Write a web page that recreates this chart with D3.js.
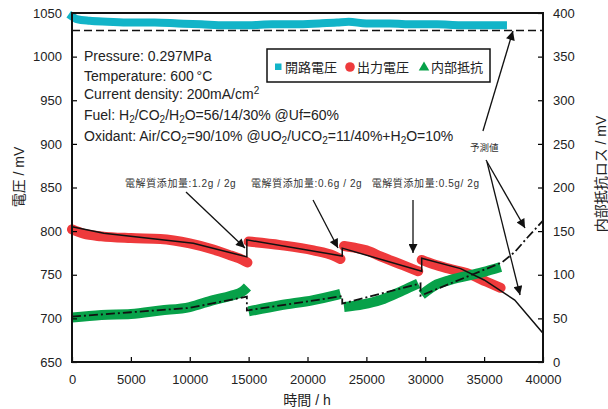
<!DOCTYPE html>
<html>
<head>
<meta charset="utf-8">
<script src="https://cdn.jsdelivr.net/npm/d3@7"></script>
<style>
  body { margin:0; background:#fff; }
  svg { display:block; font-family:"Liberation Sans", Arial, "Noto Sans CJK JP", sans-serif; }
  .tick text { font-size:13px; fill:#222; }
  .tick line { stroke:#000; stroke-width:1.2; }
</style>
</head>
<body>
<div id="chart"></div>
<script>
// axis ticks
const xTicks = [0,5000,10000,15000,20000,25000,30000,35000,40000];
const leftTicks = [650,700,750,800,850,900,950,1000,1050];
const rightTicks = [0,50,100,150,200,250,300,350,400];

// 開路電圧 (h, mV)
const ocv = [[0,1046],[400,1043],[1500,1041],[3000,1040],[5000,1039],[7000,1039],[9000,1038],[11000,1037],[13000,1036],
  [15000,1036],[17000,1037],[19000,1037],[21000,1038],[22500,1039],[23500,1040],[25000,1038],[27000,1038],[29000,1037],
  [31000,1037],[33000,1036],[35000,1036],[36600,1036]];
// 出力電圧 (h, mV), four segments between electrolyte additions
const volt1 = [[0,802],[1000,797],[2500,794],[5000,792],[7500,791],[10000,786],[12000,779],[13500,772],[14500,767],[14900,764]];
const volt2 = [[15000,788],[17700,784],[20500,778],[22200,772],[22800,768]];
const volt3 = [[23100,783],[24000,781],[25000,778],[26200,771],[28100,761],[29400,754]];
const volt4 = [[29700,767],[30700,762],[32000,757],[33500,752],[35200,742],[36400,735]];
// 内部抵抗 (h, mV on right axis)
const ir1 = [[0,51],[2500,54],[5000,55],[7500,59],[10000,63],[12000,71],[13500,76],[14500,81],[14900,86]];
const ir2 = [[15000,58],[17700,65],[20500,71],[22500,77],[22800,78]];
const ir3 = [[23100,63],[24700,66],[26200,71],[28100,82],[29400,90]];
const ir4 = [[29700,77],[31000,89],[32100,94],[34900,103],[36400,109]];
// 予測値 lines
const ocvFit = [[0,1030],[40000,1030]];
const voltFit = [[0,805],[2700,797.5],[10300,786],[14850,770.5],[14850,790],[22950,771.5],[22950,780.5],[29700,754],
  [29700,769],[33000,757],[35000,744],[37600,721],[40000,683]];
const irFit = [[0,52],[5000,57],[10000,62],[14850,75],[14850,59],[22950,75.5],[22950,67],[29600,90],[29600,76],
  [36500,114],[37600,126],[38700,143],[40000,162]];

// annotations in data coords (h, left mV)
const notes = [
  { text:"電解質添加量:1.2g / 2g", at:[4500,850.6], from:[9680,844.8], to:[14690,780.7] },
  { text:"電解質添加量:0.6g / 2g", at:[15200,850.6], from:[20470,835.7], to:[22590,780.7] },
  { text:"電解質添加量:0.5g/ 2g", at:[25450,850.6], from:[28960,835.7], to:[28960,774.9] }
];
const predArrows = [
  { from:[34900,914.8], to:[37450,1029.4] },
  { from:[35160,881.5], to:[38470,803.6] },
  { from:[35245,879.2], to:[38050,726.8] }
];

const width = 608, height = 409;
const margin = { top:13, right:65, bottom:47, left:72 };
const C = { ocv:'#12b4c8', volt:'#ee3a3c', ir:'#07a149' };

const svg = d3.select('#chart').append('svg').attr('width', width).attr('height', height);
const x = d3.scaleLinear().domain([0,40000]).range([margin.left, width - margin.right]);
const yL = d3.scaleLinear().domain([650,1050]).range([height - margin.bottom, margin.top]);
const yR = d3.scaleLinear().domain([0,400]).range([height - margin.bottom, margin.top]);

const defs = svg.append('defs');
defs.append('marker').attr('id','ah').attr('viewBox','0 0 10 10').attr('refX',10).attr('refY',5)
  .attr('markerUnits','userSpaceOnUse').attr('markerWidth',11).attr('markerHeight',9).attr('orient','auto')
  .append('path').attr('d','M0,0L10,5L0,10Z').attr('fill','#111');

// data bands
const lineL = d3.line().x(d=>x(d[0])).y(d=>yL(d[1])).curve(d3.curveMonotoneX);
const lineR = d3.line().x(d=>x(d[0])).y(d=>yR(d[1])).curve(d3.curveMonotoneX);
svg.append('path').datum(ocv).attr('d', lineL).attr('fill','none').attr('stroke',C.ocv).attr('stroke-width',8).attr('stroke-linecap','square');
[volt1,volt2,volt3,volt4].forEach(s=>{
  svg.append('path').datum(s).attr('d', lineL).attr('fill','none').attr('stroke',C.volt).attr('stroke-width',10).attr('stroke-linecap','round');
});
[ir1,ir2,ir3,ir4].forEach(s=>{
  svg.append('path').datum(s).attr('d', lineR).attr('fill','none').attr('stroke',C.ir).attr('stroke-width',10).attr('stroke-linecap','butt');
});

// fit / prediction lines
const straightL = d3.line().x(d=>x(d[0])).y(d=>yL(d[1]));
const straightR = d3.line().x(d=>x(d[0])).y(d=>yR(d[1]));
svg.append('path').datum(ocvFit).attr('d', straightL).attr('fill','none').attr('stroke','#111').attr('stroke-width',1.6).attr('stroke-dasharray','8,4');
svg.append('path').datum(voltFit).attr('d', straightL).attr('fill','none').attr('stroke','#111').attr('stroke-width',1.5);
svg.append('path').datum(irFit).attr('d', straightR).attr('fill','none').attr('stroke','#111').attr('stroke-width',1.8).attr('stroke-dasharray','9,3,2,3');

// axes
const fmt = d3.format('d');
const xa = svg.append('g').attr('transform',`translate(0,${height - margin.bottom})`)
  .call(d3.axisBottom(x).tickValues(xTicks).tickSize(-5).tickPadding(13).tickFormat(fmt));
const la = svg.append('g').attr('transform',`translate(${margin.left},0)`)
  .call(d3.axisLeft(yL).tickValues(leftTicks).tickSize(-5).tickPadding(10).tickFormat(fmt));
const ra = svg.append('g').attr('transform',`translate(${width - margin.right},0)`)
  .call(d3.axisRight(yR).tickValues(rightTicks).tickSize(-5).tickPadding(10).tickFormat(fmt));
[xa,la,ra].forEach(g=>g.select('.domain').remove());
svg.append('rect').attr('x',margin.left).attr('y',margin.top)
  .attr('width', width - margin.left - margin.right).attr('height', height - margin.top - margin.bottom)
  .attr('fill','none').attr('stroke','#111').attr('stroke-width',2);

// axis titles
svg.append('text').attr('transform','translate(24,177) rotate(-90)').attr('text-anchor','middle')
  .style('font-size','14px').style('fill','#222').text('電圧 / mV');
svg.append('text').attr('transform','translate(606,174) rotate(-90)').attr('text-anchor','middle')
  .style('font-size','14px').style('fill','#222').text('内部抵抗ロス / mV');
svg.append('text').attr('x',307).attr('y',405).attr('text-anchor','middle')
  .style('font-size','14px').style('fill','#222').text('時間 / h');

// condition text (sub/superscripts shift the baseline, next tspan shifts it back)
const info = svg.append('g').style('font-size','14px').style('fill','#222');
function richLine(yPos, parts){
  const t = info.append('text').attr('x',84).attr('y',yPos);
  let back = 0;
  parts.forEach(p=>{
    if (typeof p === 'string'){ t.append('tspan').attr('dy', back || null).text(p); back = 0; }
    else if (p.sub){ t.append('tspan').attr('dy', 3 + back).style('font-size','10px').text(p.sub); back = -3; }
    else if (p.sup){ t.append('tspan').attr('dy', -5 + back).style('font-size','10px').text(p.sup); back = 5; }
  });
}
richLine(61, ['Pressure: 0.297MPa']);
richLine(81, ['Temperature: 600\u2009°C']);
richLine(99, ['Current density: 200mA/cm', {sup:'2'}]);
richLine(120, ['Fuel: H', {sub:'2'}, '/CO', {sub:'2'}, '/H', {sub:'2'}, 'O=56/14/30% @Uf=60%']);
richLine(141, ['Oxidant: Air/CO', {sub:'2'}, '=90/10% @UO', {sub:'2'}, '/UCO', {sub:'2'}, '=11/40%+H', {sub:'2'}, 'O=10%']);

// legend
const lg = svg.append('g');
lg.append('rect').attr('x',267).attr('y',49).attr('width',223).attr('height',33).attr('fill','#fff').attr('stroke','#111').attr('stroke-width',1.5);
lg.append('rect').attr('x',275).attr('y',63.5).attr('width',6.5).attr('height',6.5).attr('fill',C.ocv);
lg.append('circle').attr('cx',350).attr('cy',67).attr('r',4.8).attr('fill',C.volt);
lg.append('path').attr('d', d3.symbol(d3.symbolTriangle, 48)()).attr('transform','translate(424,67.5)').attr('fill',C.ir);
[['開路電圧',285],['出力電圧',357],['内部抵抗',431]].forEach(([t,px])=>{
  lg.append('text').attr('x',px).attr('y',71.5).style('font-size','13px').style('fill','#222').text(t);
});

// annotations
const an = svg.append('g');
notes.forEach(n=>{
  an.append('text').attr('x',x(n.at[0])).attr('y',yL(n.at[1])).style('font-size','10px').style('letter-spacing','0.6px')
    .style('fill','#333').text(n.text);
  an.append('line').attr('x1',x(n.from[0])).attr('y1',yL(n.from[1])).attr('x2',x(n.to[0])).attr('y2',yL(n.to[1]))
    .attr('stroke','#111').attr('stroke-width',1.3).attr('marker-end','url(#ah)');
});
an.append('text').attr('x',x(33800)).attr('y',yL(891.8)).style('font-size','9.5px').style('fill','#333').text('予測値');
predArrows.forEach(a=>{
  an.append('line').attr('x1',x(a.from[0])).attr('y1',yL(a.from[1])).attr('x2',x(a.to[0])).attr('y2',yL(a.to[1]))
    .attr('stroke','#111').attr('stroke-width',1.3).attr('marker-end','url(#ah)');
});
</script>
</body>
</html>
